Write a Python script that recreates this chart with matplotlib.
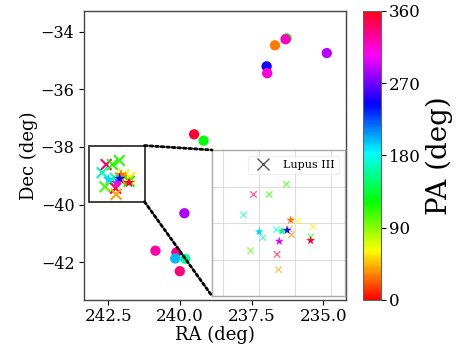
import matplotlib
matplotlib.use("Agg")
import matplotlib.pyplot as plt
from matplotlib.patches import Rectangle, ConnectionPatch
from matplotlib.lines import Line2D
import numpy as np

plt.rcParams["font.family"] = ["DejaVu Serif"]
plt.rcParams["mathtext.fontset"] = "dejavuserif"

# 圆点：大视场源
circ_ra = np.array([236.28, 236.32, 236.69, 234.88, 236.98, 236.96, 239.51, 239.18,
                    239.85, 240.86, 240.13, 240.17, 239.82, 240.01])
circ_dec = np.array([-34.23, -34.26, -34.47, -34.74, -35.20, -35.44, -37.56, -37.78,
                     -40.30, -41.60, -41.66, -41.87, -41.88, -42.31])
circ_pa = np.array([120, 318, 30, 288, 248, 313, 352, 124,
                    285, 326, 334, 199, 161, 337])

# 叉号：Lupus III
cross_ra = np.array([242.12, 242.58, 242.36, 242.72, 241.96, 241.75, 242.26,
                     242.08, 242.05, 242.45, 241.78, 242.62, 242.25, 242.23])
cross_dec = np.array([-38.47, -38.61, -38.61, -38.89, -38.97, -39.05, -39.09,
                      -39.08, -39.16, -39.20, -39.19, -39.38, -39.43, -39.64])
cross_pa = np.array([112, 338, 115, 165, 65, 58, 175,
                     35, 30, 165, 118, 105, 350, 40])

# 星号
star_ra = np.array([242.06, 242.50, 242.18, 242.11, 242.22, 241.78])
star_dec = np.array([-38.96, -39.12, -39.11, -39.10, -39.25, -39.24])
star_pa = np.array([28, 192, 150, 240, 300, 350])

main_xlim = (243.37, 234.21)
main_ylim = (-43.31, -33.27)
zoom_xlim = (243.16, 241.30)
zoom_ylim = (-40.0, -38.0)
box_x = (241.24, 243.17)
box_y = (-39.90, -37.95)

W, H = 463, 348
fig = plt.figure(figsize=(W / 100, H / 100), dpi=100)
ax = fig.add_axes([83.5 / W, 1 - 300 / H, (346 - 83.5) / W, (300 - 10.7) / H])
cax = fig.add_axes([363 / W, 1 - 300 / H, 18 / W, (300 - 10.7) / H])
axin = fig.add_axes([212 / W, 1 - 296 / H, 133 / W, 146 / H])

norm = plt.Normalize(0, 360)
cmap = "hsv"

sc = ax.scatter(circ_ra, circ_dec, c=circ_pa, cmap=cmap, norm=norm, s=55, lw=0, zorder=3)
ax.scatter(cross_ra, cross_dec, c=cross_pa, cmap=cmap, norm=norm, marker="x",
           s=60, lw=1.5, zorder=3)
ax.scatter(star_ra, star_dec, c=star_pa, cmap=cmap, norm=norm, marker="*",
           s=70, lw=0, zorder=4)
ax.set_xlim(*main_xlim)
ax.set_ylim(*main_ylim)
ax.set_xticks([242.5, 240.0, 237.5, 235.0])
ax.set_yticks([-34, -36, -38, -40, -42])
ax.set_xlabel("RA (deg)", fontsize=13, labelpad=1)
ax.set_ylabel("Dec (deg)", fontsize=13, labelpad=2)
ax.tick_params(axis="x", labelsize=12, length=3.5, pad=2)
ax.tick_params(axis="y", labelsize=11.5, length=3.5, pad=3)
for s in ax.spines.values():
    s.set_color("#444444")
    s.set_linewidth(1.0)

# 放大区域框
rect = Rectangle((box_x[0], box_y[0]), box_x[1] - box_x[0], box_y[1] - box_y[0],
                 fill=False, ec="#333333", lw=1.3, zorder=5)
ax.add_patch(rect)

# 子图
axin.scatter(cross_ra, cross_dec, c=cross_pa, cmap=cmap, norm=norm, marker="x",
             s=22, lw=1.0, alpha=0.6, zorder=3)
axin.scatter(star_ra, star_dec, c=star_pa, cmap=cmap, norm=norm, marker="*",
             s=45, lw=0, zorder=4)
axin.set_xlim(*zoom_xlim)
axin.set_ylim(*zoom_ylim)
axin.set_xticks([243.0, 242.5, 242.0, 241.5])
axin.set_yticks([-38.5, -39.0, -39.5])
axin.tick_params(length=0, labelbottom=False, labelleft=False)
axin.grid(color="#dddddd", lw=0.8)
axin.set_axisbelow(True)
for s in axin.spines.values():
    s.set_color("#aaaaaa")
    s.set_linewidth(1.0)
h = Line2D([], [], marker="x", ls="", color="#555555", ms=8, mew=1.0)
axin.legend([h], ["Lupus III"], loc="upper right", fontsize=8, framealpha=0.8,
            edgecolor="#eeeeee")

# 连接虚线
for ya, yb in [(box_y[1], 1), (box_y[0], 0)]:
    con = ConnectionPatch(xyA=(box_x[0], ya), coordsA=ax.transData,
                          xyB=(0, yb), coordsB=axin.transAxes,
                          ls=(0, (1, 1)), lw=2.0, color="black", zorder=6)
    fig.add_artist(con)

cb = fig.colorbar(sc, cax=cax, ticks=[0, 90, 180, 270, 360])
cb.ax.tick_params(labelsize=12, length=3.5, pad=2)
cb.outline.set_edgecolor("#666666")
cb.set_label("PA (deg)", fontsize=20, labelpad=4)

fig.savefig("out.png", dpi=100)
